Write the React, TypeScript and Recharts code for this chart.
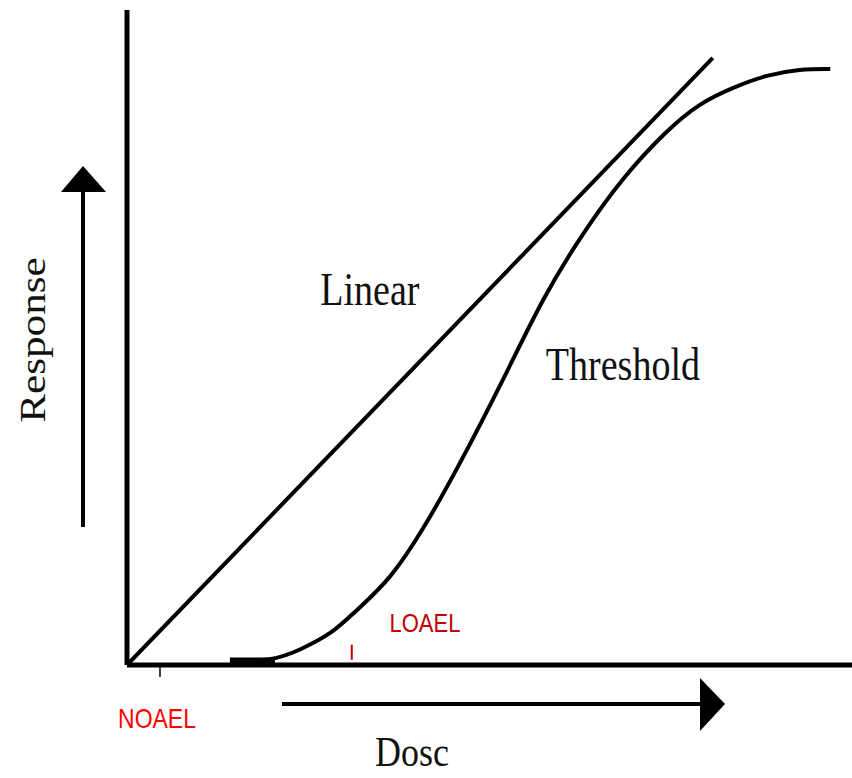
import { LineChart, Line, XAxis, YAxis, ReferenceLine, ReferenceDot } from "recharts";

// dose / response in arbitrary 0-100 units
const linearPoints = [
  { x: 0, y: 0 },
  { x: 80.8, y: 92.7 },
];

const thresholdDose = [14.2, 20.0, 23.9, 28.4, 31.2, 36.3, 40.8, 45.5, 51.9, 57.4, 62.9, 68.4, 74.5, 79.0, 83.6, 88.3, 92.8, 97.0];
const thresholdResp = [0.6, 0.6, 2.3, 4.9, 7.9, 13.0, 20.6, 29.8, 43.5, 56.2, 66.0, 74.5, 81.7, 85.8, 88.2, 90.1, 91.0, 91.0];
const thresholdPoints = thresholdDose.map((x, i) => ({ x, y: thresholdResp[i] }));

// flat start of the threshold curve (drawn heavier)
const baseSegment = [
  { x: 14.2, y: 0.6 },
  { x: 20.4, y: 0.6 },
];

const noael = 4.55;
const loael = 31.0;
const loaelTick = [0.8, 3.1];

const curveLabels = [
  { name: "Linear", x: 33.5, y: 55.0 },
  { name: "Threshold", x: 68.4, y: 43.5 },
];
const loaelLabel = { name: "LOAEL", x: 41.1, y: 5.0 };

const serif = "'Liberation Serif', 'DejaVu Serif', serif";
const sans = "'Liberation Sans', Arial, sans-serif";

// the source image is stretched vertically a bit, so the text is too
function StretchText({ x, y, text, size, family, fill = "#111", rotate = 0 }: any) {
  return (
    <g transform={`translate(${x},${y}) scale(1,1.2) rotate(${rotate})`}>
      <text x={0} y={0} textAnchor="middle" fontSize={size} fontFamily={family} fill={fill}>
        {text}
      </text>
    </g>
  );
}

const NoaelTick = ({ x, y }: any) => (
  <StretchText x={x - 3} y={y + 51} text="NOAEL" size={23} family={sans} fill="#ff0000" />
);

const YLabel = () => (
  <g>
    <StretchText x={45} y={340} text="Response" size={36} family={serif} rotate={-90} />
    <line x1={83} y1={527} x2={83} y2={190} stroke="#000" strokeWidth={4} />
    <polygon points="83,166 61,192 106,192" fill="#000" />
  </g>
);

const XLabel = () => (
  <g>
    <line x1={282} y1={704} x2={702} y2={704} stroke="#000" strokeWidth={4} />
    <polygon points="725,704 700,678 700,731" fill="#000" />
    <StretchText x={412} y={766} text="Dosc" size={36} family={serif} />
  </g>
);

export default function App() {
  return (
    <div style={{ position: "absolute", left: 0, top: 0, width: 852, height: 778, background: "#fff" }}>
      <LineChart width={852} height={778} margin={{ top: 10, right: 0, bottom: 0, left: 0 }}>
        <XAxis
          type="number"
          dataKey="x"
          domain={[0, 100]}
          ticks={[noael]}
          height={113}
          axisLine={{ stroke: "#000", strokeWidth: 5 }}
          tickLine={{ stroke: "#000", strokeWidth: 1.5 }}
          tickSize={12}
          tickMargin={0}
          tick={<NoaelTick />}
          label={{ content: <XLabel /> }}
          allowDataOverflow
        />
        <YAxis
          type="number"
          domain={[0, 100]}
          width={127}
          tick={false}
          tickLine={false}
          axisLine={{ stroke: "#000", strokeWidth: 5 }}
          label={{ content: <YLabel /> }}
          allowDataOverflow
        />
        <Line
          data={linearPoints}
          dataKey="y"
          type="linear"
          stroke="#000"
          strokeWidth={4}
          dot={false}
          isAnimationActive={false}
        />
        <Line
          data={thresholdPoints}
          dataKey="y"
          type="basis"
          stroke="#000"
          strokeWidth={4}
          dot={false}
          isAnimationActive={false}
        />
        <Line
          data={baseSegment}
          dataKey="y"
          type="linear"
          stroke="#000"
          strokeWidth={7}
          dot={false}
          isAnimationActive={false}
        />
        <ReferenceLine
          segment={[
            { x: loael, y: loaelTick[0] },
            { x: loael, y: loaelTick[1] },
          ]}
          stroke="#c00000"
          strokeWidth={2}
        />
        {curveLabels.map((l) => (
          <ReferenceDot
            key={l.name}
            x={l.x}
            y={l.y}
            r={0}
            shape={(p: any) => <StretchText x={p.cx} y={p.cy} text={l.name} size={38} family={serif} />}
          />
        ))}
        <ReferenceDot
          x={loaelLabel.x}
          y={loaelLabel.y}
          r={0}
          shape={(p: any) => (
            <StretchText x={p.cx} y={p.cy} text={loaelLabel.name} size={22} family={sans} fill="#c00000" />
          )}
        />
      </LineChart>
    </div>
  );
}
